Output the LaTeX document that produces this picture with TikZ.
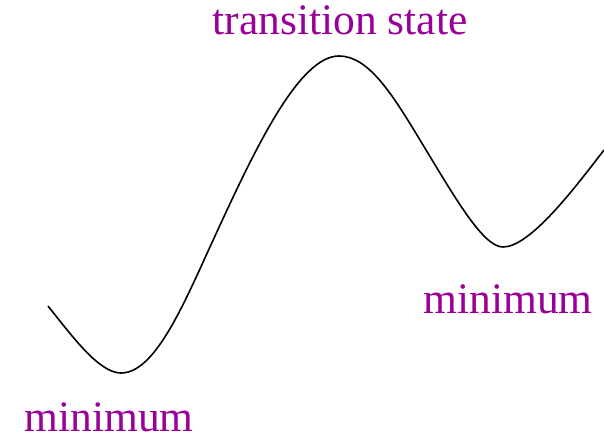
\documentclass[tikz,border=0pt]{standalone}
\usepackage{fontspec}
\setmainfont{Liberation Serif}
\usepackage{xcolor}
\usepackage{tikz}
\usetikzlibrary{positioning}
\definecolor{tsviolet}{HTML}{990099}
\tikzset{
  lbl/.style    ={text=tsviolet,inner sep=0pt,anchor=base,font=\fontsize{21.75}{26}\selectfont},
  pes/.style    ={draw,line width=0.8pt,line join=round},
}

\begin{document}
\begin{tikzpicture}[x=0.5pt,y=0.5pt]
  \useasboundingbox (0,0) rectangle (604,439);
  % stationary points and inflections of the energy curve
  \coordinate (start) at (48,133);
  \coordinate (minA)  at (121,66);
  \coordinate (infA)  at (215,203);
  \coordinate (top)   at (339,383);
  \coordinate (infB)  at (420,299);
  \coordinate (minB)  at (503,192);
  \coordinate (stop)  at (604,289);
  % energy profile
  \draw[pes] (start) .. controls (72,103) and (99,66) .. (minA)
                     .. controls (156,66) and (185,138) .. (infA)
                     .. controls (255,290) and (299,383) .. (top)
                     .. controls (369,383) and (393,343.5) .. (infB)
                     .. controls (455,241.3) and (483,192) .. (minB)
                     .. controls (530,192) and (574,250) .. (stop);
  % labels
  \node[lbl] (tslbl)   at (340,404) {transition state};
  \node[lbl] (minBlbl) at (508,126) {minimum};
  \node[lbl] (minAlbl) at (109,8)   {minimum};
\end{tikzpicture}
\end{document}
